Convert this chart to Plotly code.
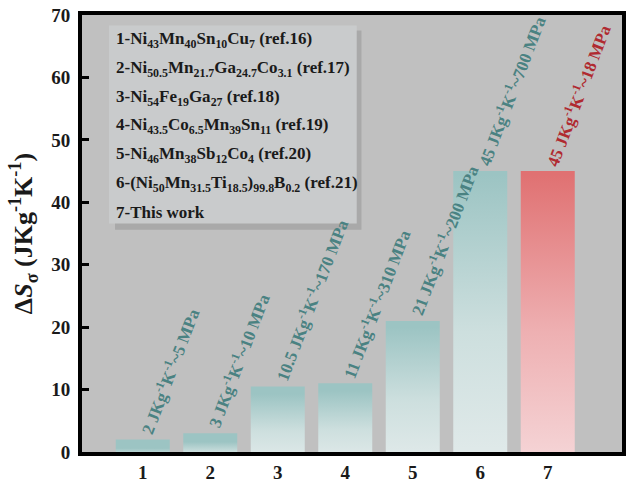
import plotly.graph_objects as go

categories = [1, 2, 3, 4, 5, 6, 7]
values = [2, 3, 10.5, 11, 21, 45, 45]
bar_labels = [
    "2 JKg<sup>-1</sup>K<sup>-1</sup>~5 MPa",
    "3 JKg<sup>-1</sup>K<sup>-1</sup>~10 MPa",
    "10.5 JKg<sup>-1</sup>K<sup>-1</sup>~170 MPa",
    "11 JKg<sup>-1</sup>K<sup>-1</sup>~310 MPa",
    "21 JKg<sup>-1</sup>K<sup>-1</sup>~200 MPa",
    "45 JKg<sup>-1</sup>K<sup>-1</sup>~700 MPa",
    "45 JKg<sup>-1</sup>K<sup>-1</sup>~18 MPa",
]
legend_lines = [
    "1-Ni<sub>43</sub>Mn<sub>40</sub>Sn<sub>10</sub>Cu<sub>7</sub> (ref.16)",
    "2-Ni<sub>50.5</sub>Mn<sub>21.7</sub>Ga<sub>24.7</sub>Co<sub>3.1</sub> (ref.17)",
    "3-Ni<sub>54</sub>Fe<sub>19</sub>Ga<sub>27</sub> (ref.18)",
    "4-Ni<sub>43.5</sub>Co<sub>6.5</sub>Mn<sub>39</sub>Sn<sub>11</sub> (ref.19)",
    "5-Ni<sub>46</sub>Mn<sub>38</sub>Sb<sub>12</sub>Co<sub>4</sub> (ref.20)",
    "6-(Ni<sub>50</sub>Mn<sub>31.5</sub>Ti<sub>18.5</sub>)<sub>99.8</sub>B<sub>0.2</sub> (ref.21)",
    "7-This work",
]
y_ticks = [0, 10, 20, 30, 40, 50, 60, 70]

FONT = "Liberation Serif"
teal_scale = [[0, "#e1eaea"], [0.45, "#cddfde"], [1, "#9cc4c3"]]
red_scale = [[0, "#f5d5d7"], [0.45, "#eeb0b2"], [1, "#e07172"]]
teal_text = "#4a8282"
red_text = "#b02a30"
BW = 0.8

fig = go.Figure()
for i, (c, v) in enumerate(zip(categories, values)):
    is_work = i == len(categories) - 1
    fig.add_trace(go.Scatter(
        x=[c - BW / 2, c + BW / 2, c + BW / 2, c - BW / 2, c - BW / 2],
        y=[0, 0, v, v, 0],
        mode="lines", line=dict(width=0), fill="toself",
        fillgradient=dict(type="vertical", start=0, stop=v,
                          colorscale=red_scale if is_work else teal_scale),
        showlegend=False, hoverinfo="skip",
    ))
    fig.add_annotation(
        x=c, y=v, text=bar_labels[i], textangle=-69, showarrow=False,
        xanchor="left", yanchor="bottom", xshift=-10, yshift=0,
        font=dict(family=FONT, size=17, color=red_text if is_work else teal_text),
    )

# legend box with shadow
fig.add_shape(type="rect", xref="x", yref="y", x0=0.589, x1=4.24, y0=35.6, y1=67.5,
              fillcolor="#a9a9a9", line=dict(width=0), layer="below")
fig.add_shape(type="rect", xref="x", yref="y", x0=0.5, x1=4.17, y0=36.6, y1=68.3,
              fillcolor="#c9cbcc", line=dict(width=0), layer="below")
for k, line in enumerate(legend_lines):
    py = 38 + 29.2 * k
    fig.add_annotation(
        x=0.57, y=(458 - py) / 6.371, xref="x", yref="y", text=line, showarrow=False,
        xanchor="left", yanchor="middle",
        font=dict(family=FONT, size=17, color="#1a1a1a"),
    )

fig.update_layout(
    width=631, height=488,
    margin=dict(l=82, r=5, t=14, b=28),
    paper_bgcolor="white", plot_bgcolor="#c0c0c0",
    font=dict(family=FONT, color="#1a1a1a"),
    showlegend=False,
)
fig.update_annotations(font_weight="bold")
fig.update_xaxes(
    range=[0.1, 8.1], tickvals=categories, ticktext=[str(c) for c in categories],
    showgrid=False, zeroline=False, ticks="",
    showline=True, linecolor="black", linewidth=4, mirror=True,
    tickfont=dict(family=FONT, size=19, color="#1a1a1a", weight="bold"),
)
fig.update_yaxes(
    range=[0, 70], tickvals=y_ticks, showgrid=False, zeroline=False,
    ticks="inside", ticklen=7, tickwidth=3, tickcolor="black",
    showline=True, linecolor="black", linewidth=4, mirror=True,
    ticklabelstandoff=4,
    tickfont=dict(family=FONT, size=19, color="#1a1a1a", weight="bold"),
    title=dict(text="<b>Δ<i>S</i><sub>σ</sub> (JKg<sup>-1</sup>K<sup>-1</sup>)</b>",
               font=dict(family=FONT, size=26, color="#1a1a1a"), standoff=12),
)

fig.write_html("out.html")
